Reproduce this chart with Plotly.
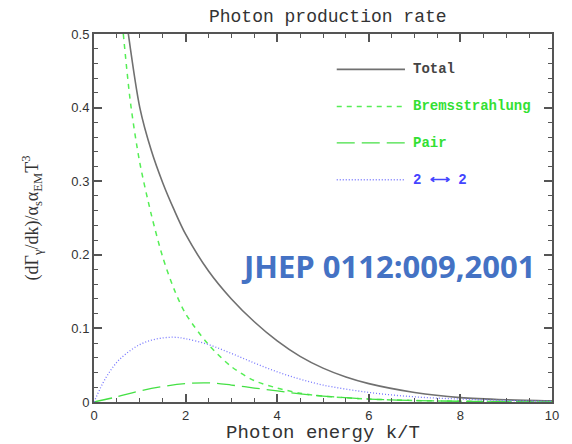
import plotly.graph_objects as go

# ---- data ----
k_total = [0.75, 1.0, 1.25, 1.5, 1.75, 2.0, 2.5, 3.0, 3.5, 4.0, 4.5, 5.0, 5.5, 6.0, 7.0, 8.0, 9.0, 10.0]
v_total = [0.50, 0.40, 0.342, 0.298, 0.261, 0.228, 0.178, 0.140, 0.109, 0.083, 0.062, 0.046, 0.034, 0.025, 0.013, 0.006, 0.003, 0.0015]

k_brems = [0.64, 0.8, 1.0, 1.25, 1.5, 1.75, 2.0, 2.5, 3.0, 3.5, 4.0, 4.5, 5.0, 6.0, 7.0, 8.0, 10.0]
v_brems = [0.50, 0.405, 0.325, 0.255, 0.197, 0.153, 0.12, 0.078, 0.048, 0.029, 0.019, 0.012, 0.008, 0.004, 0.002, 0.001, 0.0003]

k_pair = [0.0, 0.5, 1.0, 1.5, 2.0, 2.5, 3.0, 3.5, 4.0, 4.5, 5.0, 6.0, 7.0, 8.0, 9.0, 10.0]
v_pair = [0.0, 0.007, 0.015, 0.021, 0.025, 0.026, 0.023, 0.019, 0.015, 0.011, 0.008, 0.004, 0.002, 0.001, 0.0005, 0.0002]

k_22 = [0.0, 0.25, 0.5, 0.75, 1.0, 1.25, 1.5, 1.75, 2.0, 2.5, 3.0, 3.5, 4.0, 4.5, 5.0, 6.0, 7.0, 8.0, 9.0, 10.0]
v_22 = [0.0, 0.032, 0.054, 0.068, 0.078, 0.084, 0.087, 0.088, 0.086, 0.078, 0.066, 0.053, 0.041, 0.031, 0.023, 0.013, 0.007, 0.004, 0.002, 0.001]

legend_labels = ["Total", "Bremsstrahlung", "Pair", "2 \u27f7 2"]

c_total = "#707070"
c_brems = "#55ee55"
c_pair = "#44e044"
c_22 = "#7777ff"

fig = go.Figure()
fig.add_trace(go.Scatter(x=k_total, y=v_total, mode="lines", line=dict(color=c_total, width=1.6, shape="spline", smoothing=0.8), showlegend=False))
fig.add_trace(go.Scatter(x=k_brems, y=v_brems, mode="lines", line=dict(color=c_brems, width=1.5, dash="5px,5px", shape="spline", smoothing=0.8), showlegend=False))
fig.add_trace(go.Scatter(x=k_pair, y=v_pair, mode="lines", line=dict(color=c_pair, width=1.3, dash="18px,7px", shape="spline"), showlegend=False))
fig.add_trace(go.Scatter(x=k_22, y=v_22, mode="lines", line=dict(color=c_22, width=1.3, dash="1px,2px", shape="spline"), showlegend=False))

# legend drawn inside the plot
leg_y = [0.904, 0.803, 0.704, 0.604]
leg_styles = [
    dict(color=c_total, width=1.6),
    dict(color=c_brems, width=1.5, dash="5px,5px"),
    dict(color=c_pair, width=1.3, dash="18px,7px"),
    dict(color=c_22, width=1.3, dash="1px,2px"),
]
leg_text_col = ["#444444", "#33e033", "#33e033", "#4444ff"]
for y, st, lab, tc in zip(leg_y, leg_styles, legend_labels, leg_text_col):
    fig.add_shape(type="line", xref="paper", yref="paper", x0=0.530, x1=0.679, y0=y, y1=y, line=st)
    fig.add_annotation(xref="paper", yref="paper", x=0.6915, y=y, text="<b>" + lab + "</b>", showarrow=False,
                       xanchor="left", yanchor="middle", font=dict(family="Liberation Mono", size=14, color=tc))

fig.add_annotation(xref="paper", yref="paper", x=0.316, y=0.369, text="<b>JHEP 0112:009,2001</b>", showarrow=False,
                   xanchor="left", yanchor="middle", font=dict(family="Open Sans", size=31, color="#4472C4"))

axis_common = dict(showline=True, linecolor="#555555", linewidth=2, mirror="ticks", ticks="inside",
                   tickcolor="#555555", tickwidth=1.5, ticklen=8, showgrid=False, zeroline=False, automargin=False,
                   tickfont=dict(family="Liberation Sans", size=13, color="#333333"))

fig.update_layout(
    width=572, height=444,
    margin=dict(l=94, r=20, t=34, b=42),
    paper_bgcolor="white", plot_bgcolor="white",
    title=dict(text="Photon production rate", x=0.573, xanchor="center", y=0.965, yanchor="middle",
               font=dict(family="Liberation Mono", size=18, color="#333333")),
    xaxis=dict(range=[0, 10], tickvals=[0, 2, 4, 6, 8, 10], ticktext=["0", "2", "4", "6", "8", "10"],
               minor=dict(dtick=0.5, ticks="inside", ticklen=4, tickcolor="#555555", tickwidth=1.2),
               title=dict(text="Photon energy k/T", standoff=7,
                          font=dict(family="Liberation Mono", size=19, color="#333333")),
               **axis_common),
    yaxis=dict(range=[0, 0.5], tickvals=[0, 0.1, 0.2, 0.3, 0.4, 0.5], ticktext=["0", "0.1", "0.2", "0.3", "0.4", "0.5"],
               minor=dict(dtick=0.02, ticks="inside", ticklen=4, tickcolor="#555555", tickwidth=1.2),
               title=dict(text="(d\u0393<sub>\u03b3</sub>/dk)/\u03b1<sub>s</sub>\u03b1<sub>EM</sub>T<sup>3</sup>", standoff=28,
                          font=dict(family="Liberation Serif", size=18, color="#333333")),
               **axis_common),
)

fig.write_html("out.html")
